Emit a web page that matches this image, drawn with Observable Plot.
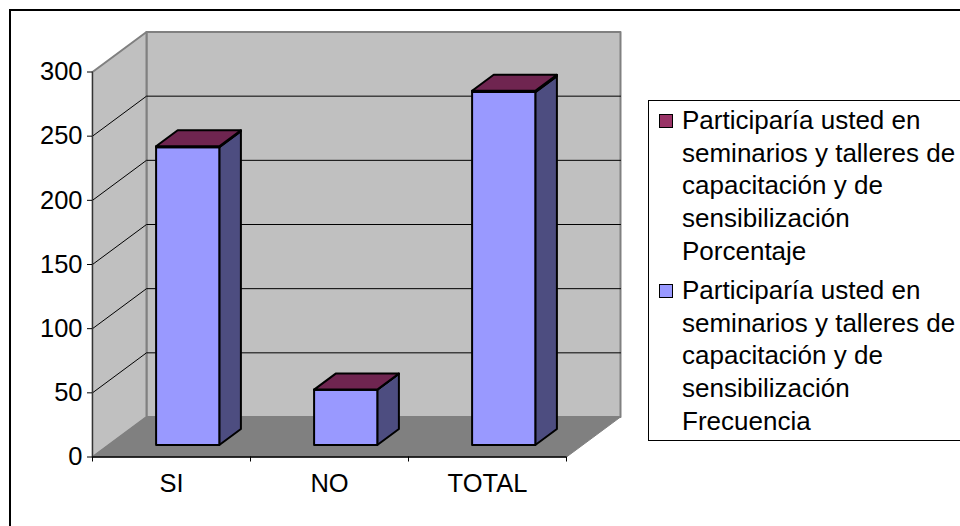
<!DOCTYPE html>
<html lang="es"><head><meta charset="utf-8">
<script src="https://cdn.jsdelivr.net/npm/d3@7"></script>
<script src="https://cdn.jsdelivr.net/npm/@observablehq/plot@0.6"></script>
<style>
html,body{margin:0;padding:0;background:#fff;overflow:hidden;width:960px;height:526px}
#chart{position:absolute;left:0;top:0}
#frame{position:absolute;left:9px;top:9px;width:951px;height:517px;border-top:2px solid #000;border-left:2px solid #000;box-sizing:border-box;pointer-events:none}
#legend{position:absolute;left:648px;top:100px;width:312px;height:341px;box-sizing:border-box;border:1px solid #000;border-right:none;background:#fff;font:26px/32.7px "Liberation Sans",Arial,sans-serif;color:#000}
.entry{position:absolute;left:33px;white-space:pre}
.swatch{position:absolute;left:10px;width:14px;height:14px;border:1.5px solid #000;box-sizing:border-box}
</style></head>
<body><div id="chart"></div><div id="frame"></div>
<div id="legend">
<div class="swatch" style="top:13px;background:#993366"></div>
<div class="entry" id="l0" style="top:3px"></div>
<div class="swatch" style="top:183px;background:#9999ff"></div>
<div class="entry" id="l1" style="top:173px"></div>
</div>
<script>
const categories = ["SI", "NO", "TOTAL"];
const frecuencia = [232, 43, 275];
const porcentaje = [0.84, 0.16, 1];
const yTicks = [0, 50, 100, 150, 200, 250, 300];
const legendLines = [
  "Participaría usted en\nseminarios y talleres de\ncapacitación y de\nsensibilización\nPorcentaje",
  "Participaría usted en\nseminarios y talleres de\ncapacitación y de\nsensibilización\nFrecuencia"
];
document.getElementById("l0").textContent = legendLines[0];
document.getElementById("l1").textContent = legendLines[1];

// Oblique 3D projection: depth d (0 front .. 1 back) shifts right and up, in data units.
const shearX = 54 / 158, shearY = 40 / (385 / 300);
const P = (cat, val, d) => ({px: cat + d * shearX, py: val + d * shearY});
const poly = (id, pts) => [...pts, pts[0]].map(([c, v, d]) => ({id, ...P(c, v, d)}));

const nCat = categories.length, yMax = 300;
const wall = [...poly("back", [[0,0,1],[nCat,0,1],[nCat,yMax,1],[0,yMax,1]]),
              ...poly("side", [[0,0,0],[0,0,1],[0,yMax,1],[0,yMax,0]])];
const floor = poly("floor", [[0,0,0],[nCat,0,0],[nCat,0,1],[0,0,1]]);
const grid = yTicks.slice(1, -1).flatMap(v => [[0,v,0],[0,v,1],[nCat,v,1]].map(([c,y,d]) => ({id:v, ...P(c,y,d)})));

const barW = 0.4, d0 = 0.3, d1 = 0.7;
const fronts = [], sides = [], pctFronts = [], pctSides = [], tops = [];
categories.forEach((name, i) => {
  const a = i + 0.5 - barW / 2, b = a + barW, h = frecuencia[i], t = h + porcentaje[i];
  fronts.push(...poly(name, [[a,0,d0],[b,0,d0],[b,h,d0],[a,h,d0]]));
  sides.push(...poly(name, [[b,0,d0],[b,0,d1],[b,h,d1],[b,h,d0]]));
  pctFronts.push(...poly(name, [[a,h,d0],[b,h,d0],[b,t,d0],[a,t,d0]]));
  pctSides.push(...poly(name, [[b,h,d0],[b,h,d1],[b,t,d1],[b,t,d0]]));
  tops.push(...poly(name, [[a,t,d0],[b,t,d0],[b,t,d1],[a,t,d1]]));
});
const face = (data, fill, stroke, strokeWidth) => Plot.line(data, {x:"px", y:"py", z:"id", fill, stroke, strokeWidth, strokeLinejoin:"round", curve:"linear"});

const plot = Plot.plot({
  width: 960, height: 526,
  marginLeft: 92, marginRight: 394, marginTop: 71.5, marginBottom: 69.5,
  x: {domain: [0, nCat], axis: null},
  y: {domain: [0, yMax], axis: null},
  style: {fontFamily: '"Liberation Sans",Arial,sans-serif', background: "#fff", color: "#000", overflow: "visible"},
  marks: [
    face(wall, "#c0c0c0", "#808080", 2),
    face(floor, "#808080", "#808080", 1),
    Plot.line(grid, {x:"px", y:"py", z:"id", stroke:"#000", strokeWidth:1}),
    Plot.ruleY([0], {stroke:"#000", strokeWidth:1.5}),
    Plot.ruleX([0], {y1:0, y2:yMax, stroke:"#333", strokeWidth:1}),
    face(sides, "#4d4d80", "#000", 2),
    face(fronts, "#9999ff", "#000", 2),
    face(pctSides, "#4d1a33", "#000", 2),
    face(pctFronts, "#993366", "#000", 2),
    face(tops, "#6f2550", "#000", 2),
    Plot.axisY({ticks: yTicks, tickSize: 5, tickPadding: 5, fontSize: 25.5, label: null, tickFormat: d => String(d)}),
    Plot.axisX({ticks: d3.range(nCat + 1), tickSize: 5, tickFormat: () => "", label: null}),
    Plot.axisX({ticks: categories.map((_, i) => i + 0.5), tickSize: 0, tickPadding: 17, fontSize: 25.5, label: null, tickFormat: d => categories[Math.floor(d)]})
  ]
});
document.getElementById("chart").append(plot);
</script>
</body></html>
